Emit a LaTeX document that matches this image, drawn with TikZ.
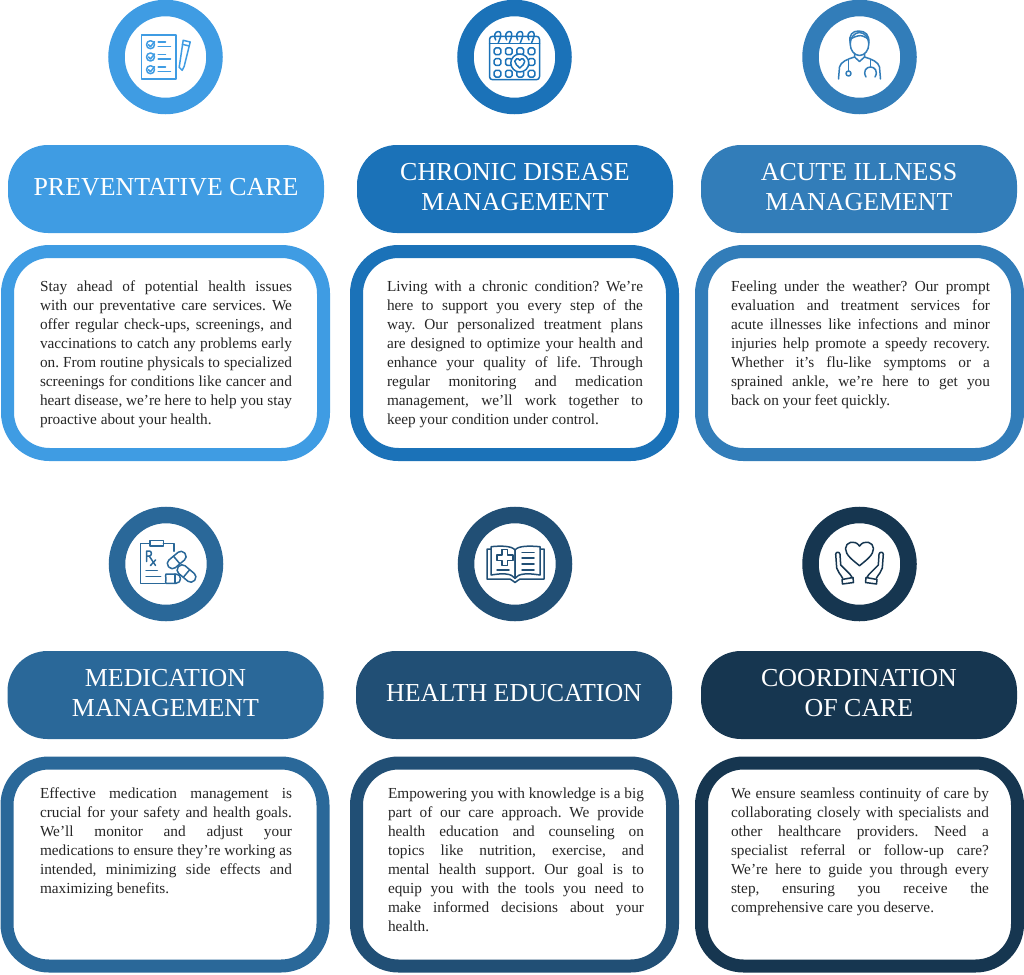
\documentclass[tikz,border=0pt]{standalone}
\usepackage{fontspec}
\setmainfont{Liberation Serif}
\definecolor{blueA}{HTML}{3F9CE3}
\definecolor{blueB}{HTML}{1B72B8}
\definecolor{blueC}{HTML}{327DB9}
\definecolor{blueD}{HTML}{2A6899}
\definecolor{blueE}{HTML}{214F75}
\definecolor{blueF}{HTML}{163650}
\newcommand{\heartshape}{(0,1) .. controls (-0.5,0.55) and (-1,0.15) .. (-1,-0.35) .. controls (-1,-0.85) and (-0.35,-1.1) .. (0,-0.55) .. controls (0.35,-1.1) and (1,-0.85) .. (1,-0.35) .. controls (1,0.15) and (0.5,0.55) .. (0,1) -- cycle}
\frenchspacing
\tikzset{
  ringbox/.style={circle,draw=#1,line width=16.5pt,fill=white,minimum size=98pt,inner sep=0pt},
  pillbox/.style={fill=#1,rounded corners=40pt,minimum width=316pt,minimum height=88pt,inner sep=0pt,text=white,align=center,text depth=4.5pt,font=\fontsize{25.9}{30}\selectfont},
  cardbox/.style={draw=#1,line width=13pt,fill=white,rounded corners=42pt,minimum width=316pt,minimum height=203pt,inner sep=0pt},
  cardtext/.style={anchor=north,inner sep=0pt,align=justify,text=black!85,font=\fontsize{15.3}{19}\selectfont},
  icon/.style={draw=#1,line width=1.5pt,line join=round,line cap=round}
}
\begin{document}
\begin{tikzpicture}[x=1pt,y=-1pt]
  \useasboundingbox (0,0) rectangle (1024,974);
  % top row
  \node[ringbox=blueA] (ring1) at (165.5,57) {};
  \node[ringbox=blueB] (ring2) at (514.5,57) {};
  \node[ringbox=blueC] (ring3) at (859.5,57) {};
  \node[pillbox=blueA] (pill1) at (166,189) {PREVENTATIVE CARE};
  \node[pillbox=blueB] (pill2) at (515,189) {CHRONIC DISEASE\\MANAGEMENT};
  \node[pillbox=blueC] (pill3) at (859,189) {ACUTE ILLNESS\\MANAGEMENT};
  \node[cardbox=blueA] (card1) at (165.5,353) {};
  \node[cardbox=blueB] (card2) at (514.5,353) {};
  \node[cardbox=blueC] (card3) at (859.5,353) {};
  \node[cardtext,text width=252pt] (text1) at (166,281) {Stay ahead of potential health issues\linebreak with our preventative care services. We\linebreak offer regular check-ups, screenings, and\linebreak vaccinations to catch any problems early\linebreak on. From routine physicals to specialized\linebreak screenings for conditions like cancer and\linebreak heart disease, we’re here to help you stay\linebreak proactive about your health.};
  \node[cardtext,text width=256pt] (text2) at (515,281) {Living with a chronic condition? We’re\linebreak here to support you every step of the\linebreak way. Our personalized treatment plans\linebreak are designed to optimize your health and\linebreak enhance your quality of life. Through\linebreak regular monitoring and medication\linebreak management, we’ll work together to\linebreak keep your condition under control.};
  \node[cardtext,text width=259pt] (text3) at (860.5,281) {Feeling under the weather? Our prompt\linebreak evaluation and treatment services for\linebreak acute illnesses like infections and minor\linebreak injuries help promote a speedy recovery.\linebreak Whether it’s flu-like symptoms or a\linebreak sprained ankle, we’re here to get you\linebreak back on your feet quickly.};
  % bottom row
  \node[ringbox=blueD] (ring4) at (166,564) {};
  \node[ringbox=blueE] (ring5) at (515,564) {};
  \node[ringbox=blueF] (ring6) at (859.5,564) {};
  \node[pillbox=blueD] (pill4) at (165.5,695) {MEDICATION\\MANAGEMENT};
  \node[pillbox=blueE] (pill5) at (514,695) {HEALTH EDUCATION};
  \node[pillbox=blueF] (pill6) at (859,695) {COORDINATION\\OF CARE};
  \node[cardbox=blueD] (card4) at (165,864.5) {};
  \node[cardbox=blueE] (card5) at (514.5,864.5) {};
  \node[cardbox=blueF] (card6) at (859.5,864.5) {};
  \node[cardtext,text width=252pt] (text4) at (166,788) {Effective medication management is\linebreak crucial for your safety and health goals.\linebreak We’ll monitor and adjust your\linebreak medications to ensure they’re working as\linebreak intended, minimizing side effects and\linebreak maximizing benefits.};
  \node[cardtext,text width=256pt] (text5) at (516,788) {Empowering you with knowledge is a big\linebreak part of our care approach. We provide\linebreak health education and counseling on\linebreak topics like nutrition, exercise, and\linebreak mental health support. Our goal is to\linebreak equip you with the tools you need to\linebreak make informed decisions about your\linebreak health.};
  \node[cardtext,text width=258pt] (text6) at (860,788) {We ensure seamless continuity of care by\linebreak collaborating closely with specialists and\linebreak other healthcare providers. Need a\linebreak specialist referral or follow-up care?\linebreak We’re here to guide you through every\linebreak step, ensuring you receive the\linebreak comprehensive care you deserve.};
  % checklist icon
  \begin{scope}[shift={(ring1)},icon=blueA]
    \draw (-24,-22) rectangle (10.3,22);
    \foreach \y in {-12.3,0,12.7}{
      \draw (-15,\y) circle (4);
      \draw (-17,\y) -- (-15,\y+2) -- (-11,\y-3);
      \draw (-7.3,\y-2.5) -- (0,\y-2.5);
      \draw (-7.3,\y+2) -- (5,\y+2);
    }
    \draw (17.7,-16.7) -- (24.7,-15) -- (18.7,9.3) -- (16.7,13.3) -- (13.7,10.3) -- cycle;
    \draw (16.8,-12.7) -- (23.7,-11);
  \end{scope}
  % calendar icon
  \begin{scope}[shift={(ring2)},icon=blueB]
    \draw[rounded corners=3pt] (-25,-20.7) rectangle (25,22.7);
    \draw (-25,-13.3) -- (25,-13.3);
    \foreach \x in {-16.3,-5.3,5.7,17}{
      \draw (\x-2.5,-17) .. controls (\x-5,-21) and (\x-3,-25.5) .. (\x,-25.5) .. controls (\x+3,-25.5) and (\x+3,-22) .. (\x+2,-19) -- (\x,-14);
    }
    \foreach \x/\y in {-17/-5.7,-5.7/-5.7,5.7/-5.7,17/-5.7,-17/5,-5.7/5,17/5,-17/16.7,-5.7/16.7,5.7/16.7,17/16.7}{
      \draw[rounded corners=1.5pt] (\x-3.3,\y-3.3) rectangle (\x+3.3,\y+3.3);
    }
    \draw[fill=white] (5.3,6) circle (9);
    \draw[shift={(5.3,6)},scale=5] \heartshape;
  \end{scope}
  % doctor icon
  \begin{scope}[shift={(ring3)},icon=blueC]
    \draw (0,-13) ellipse (9.3 and 11.5);
    \draw (-9.3,-14) .. controls (-11,-22) and (-7,-26) .. (-1,-26) .. controls (6,-26) and (10,-22) .. (9.3,-14);
    \draw (-9,-18) .. controls (-4,-21) and (1,-22) .. (3,-21) .. controls (6,-20) and (8,-19) .. (9,-17);
    \draw (-5,-3) -- (-5,0) -- (0,4.5) -- (5,-0) -- (5,-3);
    \draw (-21,22) -- (-20,10) .. controls (-19,5) and (-12,2) .. (-5,0);
    \draw (21,22) -- (20,10) .. controls (19,5) and (12,2) .. (5,0);
    \draw (-11,3) -- (-11,14);
    \draw (-11,16.5) circle (2.5);
    \draw (11,3) -- (11,10);
    \draw (6.5,20) .. controls (3,14) and (7,10) .. (11,10) .. controls (15,10) and (19,14) .. (15.5,20);
  \end{scope}
  % prescription icon
  \begin{scope}[shift={(ring4)},icon=blueD]
    \draw (-16,-20.7) -- (-25.3,-20.7) -- (-25.3,19.3) -- (-1,19.3);
    \draw (-2.7,-20.7) -- (8,-20.7) -- (8,-12.7);
    \draw (-16,-23.3) rectangle (-2.7,-18);
    \draw (-19.3,-2.5) -- (-19.3,-13) -- (-16.5,-13) .. controls (-14,-13) and (-14,-8) .. (-16.5,-8) -- (-19.3,-8);
    \draw (-16.8,-8) -- (-10.5,1.5);
    \draw (-10.5,-4) -- (-15.5,1.5);
    \draw (-20,6.7) -- (-8.7,6.7);
    \draw (-20,12.7) -- (-5.3,12.7);
    \draw[shift={(10.7,-4)},rotate=40,rounded corners=4.5pt] (-10.5,-5) rectangle (10.5,5);
    \draw[shift={(10.7,-4)},rotate=40] (0,-5) -- (0,5);
    \draw[shift={(20.5,9.5)},rotate=-40,rounded corners=4.5pt] (-10.5,-5) rectangle (10.5,5);
    \draw[shift={(20.5,9.5)},rotate=-40] (0,-5) -- (0,5);
    \draw (0,10) -- (10,10) .. controls (16,10) and (16,19.3) .. (10,19.3) -- (0,19.3) .. controls (-1,19.3) and (0,17) .. (0,15) .. controls (0,13) and (-1,10) .. (0,10);
    \draw (9,10) -- (9,19.3);
  \end{scope}
  % book icon
  \begin{scope}[shift={(ring5)},icon=blueE]
    \draw (0,14.3) -- (0,-14) .. controls (-3,-18.3) and (-14.5,-18.3) .. (-23.8,-17.3) -- (-23.8,11) .. controls (-12,9) and (-3.5,9.3) .. (0,14.3);
    \draw (0,14.3) -- (0,-14) .. controls (3,-18.3) and (14.5,-18.3) .. (25,-17.3) -- (25,11) .. controls (12,9) and (3.5,9.3) .. (0,14.3);
    \draw (-24,-15) -- (-28,-15) -- (-28,15) -- (-5,15) .. controls (-3,15) and (-1.5,18.5) .. (0,18.5) .. controls (1.5,18.5) and (3,15) .. (5,15) -- (29,15) -- (29,-15) -- (25,-15);
    \draw (-12.9,-14.3) -- (-7.5,-14.3) -- (-7.5,-9) -- (-2.2,-9) -- (-2.2,-3.6) -- (-7.5,-3.6) -- (-7.5,1.7) -- (-12.9,1.7) -- (-12.9,-3.6) -- (-18.2,-3.6) -- (-18.2,-9) -- (-12.9,-9) -- cycle;
    \draw (-18,6) -- (-6,6);
    \foreach \y in {-11.3,-6,0,6}{
      \draw (7,\y) -- (19,\y);
    }
  \end{scope}
  % caring hands icon
  \begin{scope}[shift={(ring6)},icon=blueF]
    \draw[shift={(0,-11)},xscale=14,yscale=12.7] \heartshape;
    \foreach \s in {1,-1}{
      \begin{scope}[xscale=\s]
        \draw (-16.8,14.3) .. controls (-19,10) and (-22,8) .. (-22.8,4) -- (-23.8,-9.7) .. controls (-23.8,-12.5) and (-19.8,-12.5) .. (-19.5,-9.7) -- (-18.8,1) -- (-11.5,8.3) -- (-9.5,10.3) -- (-7.2,13.7);
        \draw (-17.5,15.5) -- (-6.5,13.5) -- (-6,18.5) -- (-17,20) -- cycle;
      \end{scope}
    }
  \end{scope}
\end{tikzpicture}
\end{document}
